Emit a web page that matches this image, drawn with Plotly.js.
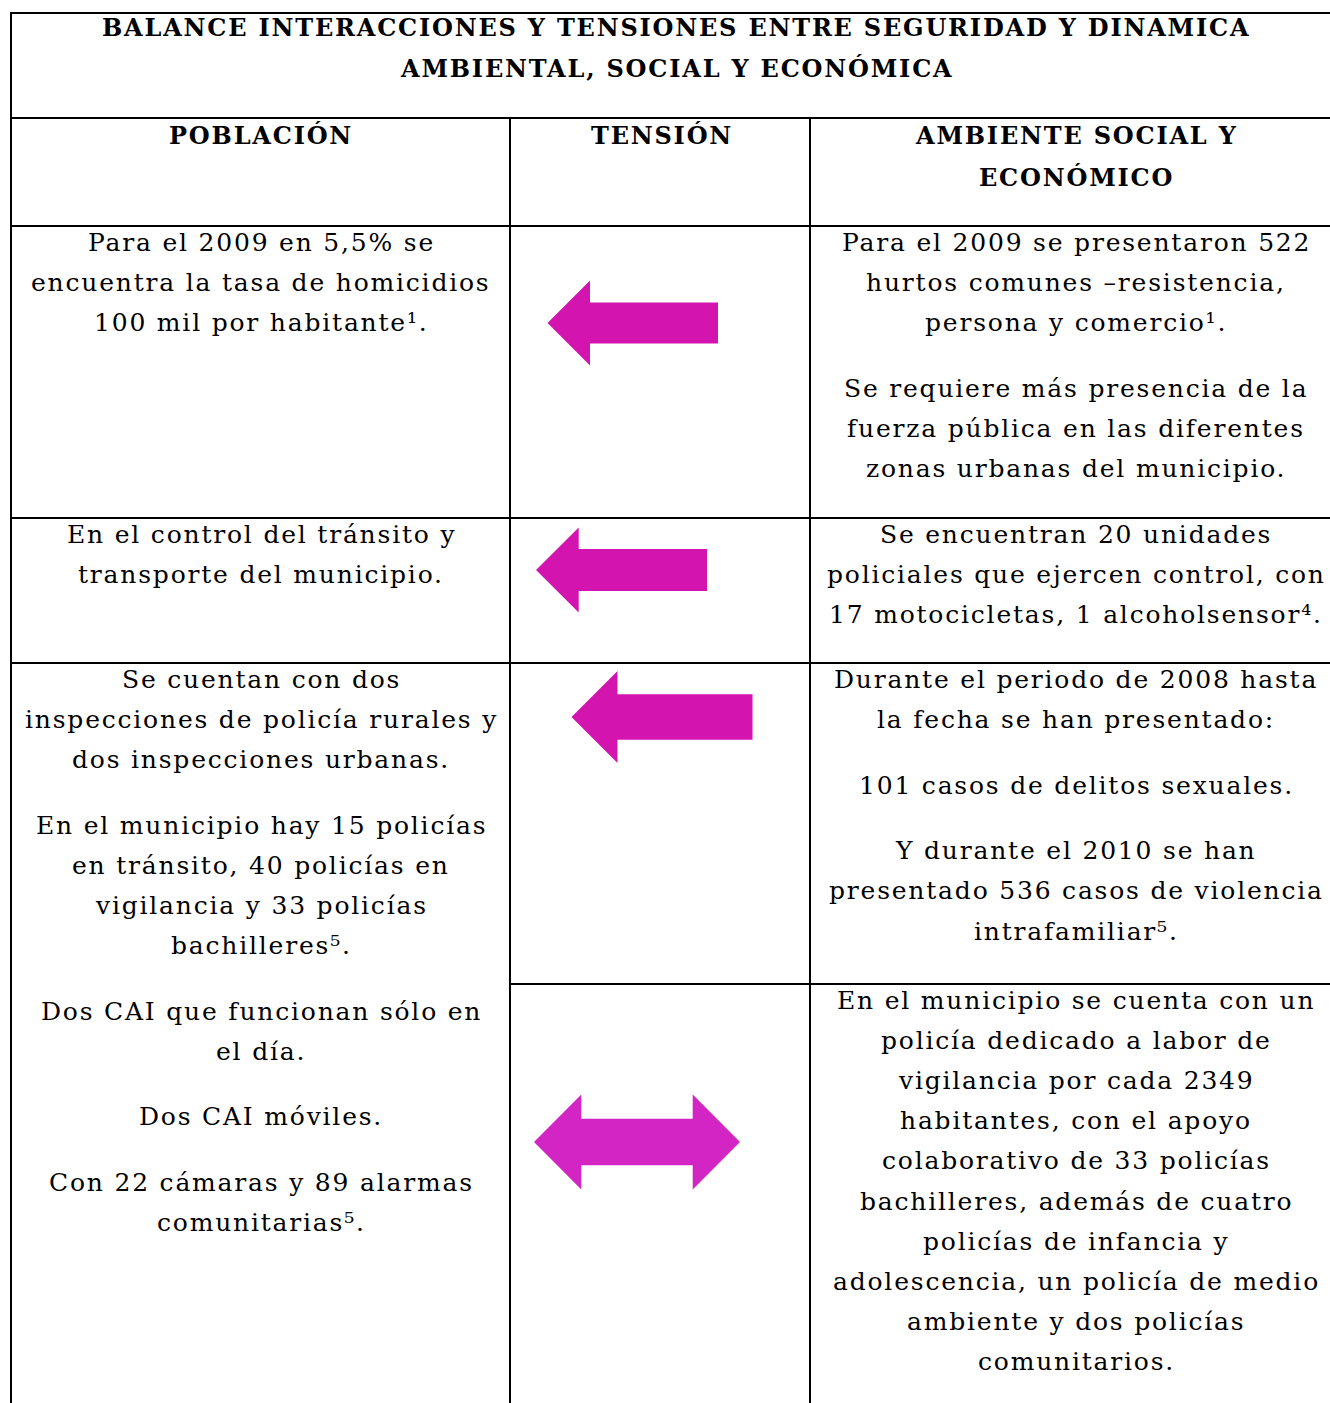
<!DOCTYPE html>
<html>
<head>
<meta charset="utf-8">
<script src="https://cdn.plot.ly/plotly-3.0.1.min.js"></script>
<style>
html,body{margin:0;padding:0;background:#fff;}
#chart{width:1330px;height:1403px;}
.annotation-text{letter-spacing:1.8px;}
</style>
</head>
<body>
<div id="chart"></div>
<script>
// ---------- DATA ----------
const titleLines = [
  "BALANCE INTERACCIONES Y TENSIONES ENTRE SEGURIDAD Y DINAMICA",
  "AMBIENTAL, SOCIAL Y ECONÓMICA"
];
const headers = [
  ["POBLACIÓN"],
  ["TENSIÓN"],
  ["AMBIENTE SOCIAL Y", "ECONÓMICO"]
];
// POBLACIÓN column: one entry per cell, each cell is a list of paragraphs (lists of lines)
const poblacion = [
  [["Para el 2009 en 5,5% se", "encuentra la tasa de homicidios", "100 mil por habitante¹."]],
  [["En el control del tránsito y", "transporte del municipio."]],
  [["Se cuentan con dos", "inspecciones de policía rurales y", "dos inspecciones urbanas."],
   ["En el municipio hay 15 policías", "en tránsito, 40 policías en", "vigilancia y 33 policías", "bachilleres⁵."],
   ["Dos CAI que funcionan sólo en", "el día."],
   ["Dos CAI móviles."],
   ["Con 22 cámaras y 89 alarmas", "comunitarias⁵."]]
];
// TENSIÓN column: arrow direction per cell
const tension = ["left", "left", "left", "both"];
// AMBIENTE SOCIAL Y ECONÓMICO column
const ambiente = [
  [["Para el 2009 se presentaron 522", "hurtos comunes –resistencia,", "persona y comercio¹."],
   ["Se requiere más presencia de la", "fuerza pública en las diferentes", "zonas urbanas del municipio."]],
  [["Se encuentran 20 unidades", "policiales que ejercen control, con", "17 motocicletas, 1 alcoholsensor⁴."]],
  [["Durante el periodo de 2008 hasta", "la fecha se han presentado:"],
   ["101 casos de delitos sexuales."],
   ["Y durante el 2010 se han", "presentado 536 casos de violencia", "intrafamiliar⁵."]],
  [["En el municipio se cuenta con un", "policía dedicado a labor de", "vigilancia por cada 2349",
    "habitantes, con el apoyo", "colaborativo de 33 policías", "bachilleres, además de cuatro",
    "policías de infancia y", "adolescencia, un policía de medio", "ambiente y dos policías", "comunitarios."]]
];

// ---------- LAYOUT GEOMETRY (pixel-like axis units) ----------
const W = 1330, H = 1403;
const tableLeft = 11, tableTop = 13, tableRight = 1345;
const colX = [tableLeft, 510, 810];
const colCenter = [261, 662, 1076];
const titleBottom = 118, headerBottom = 226;
const rowTopsMid = [226, 518, 663, 984];   // rows for TENSIÓN / AMBIENTE
const rowTopsLeft = [226, 518, 663];       // POBLACIÓN (last cell spans two rows)
const firstLineOffset = 16.5;
const lineStep = 40.1;
const paraGap = 25.5;
const bodyFont = {family: "DejaVu Serif, Liberation Serif, serif", size: 25, color: "#000"};
const boldFont = {family: "DejaVu Serif, Liberation Serif, serif", size: 24, color: "#000", weight: "bold"};
const arrowGeom = [
  {tip: 547.5, cy: 323, len: 170.5, head: 42.5, headHalf: 42.5, shaftHalf: 20.5, color: "#D314AE"},
  {tip: 536,   cy: 570, len: 171,   head: 42.7, headHalf: 42.5, shaftHalf: 21,   color: "#D314AE"},
  {tip: 571.5, cy: 717, len: 181,   head: 46,   headHalf: 46,   shaftHalf: 22.7, color: "#D314AE"},
  {tip: 534,   cy: 1142, len: 206,  head: 47.3, headHalf: 47.5, shaftHalf: 23.3, color: "#D324C4"}
];

const shapes = [];
const annotations = [];
function hline(y, x0, x1) {
  shapes.push({type: "line", xref: "x", yref: "y", x0: x0, x1: x1, y0: y, y1: y, line: {color: "#000", width: 2}});
}
function vline(x, y0, y1) {
  shapes.push({type: "line", xref: "x", yref: "y", x0: x, x1: x, y0: y0, y1: y1, line: {color: "#000", width: 2}});
}
// grid
hline(tableTop, tableLeft - 1, tableRight);
hline(titleBottom, tableLeft - 1, tableRight);
hline(headerBottom, tableLeft - 1, tableRight);
hline(rowTopsMid[1], tableLeft - 1, tableRight);
hline(rowTopsMid[2], tableLeft - 1, tableRight);
hline(rowTopsMid[3], colX[1], tableRight);
vline(colX[0], tableTop - 1, H + 5);
vline(colX[1], titleBottom, H + 5);
vline(colX[2], titleBottom, H + 5);

function addText(txt, x, y, font) {
  annotations.push({xref: "x", yref: "y", x: x, y: y, text: txt, showarrow: false,
    xanchor: "center", yanchor: "middle", font: font, align: "center"});
}
function addCell(paragraphs, x, top) {
  let y = top + firstLineOffset;
  paragraphs.forEach(function (para, pi) {
    if (pi > 0) y += paraGap;
    para.forEach(function (line) {
      addText(line, x, y, bodyFont);
      y += lineStep;
    });
  });
}

// title
titleLines.forEach(function (t, i) { addText(t, 676, 27 + i * 41, boldFont); });
// headers
headers.forEach(function (lines, c) {
  lines.forEach(function (t, i) { addText(t, colCenter[c], 135 + i * 42, boldFont); });
});
// body cells
poblacion.forEach(function (cell, r) { addCell(cell, colCenter[0], rowTopsLeft[r]); });
ambiente.forEach(function (cell, r) { addCell(cell, colCenter[2], rowTopsMid[r]); });

// arrows
function arrowPath(dir, g) {
  const x0 = g.tip, x1 = g.tip + g.len, cy = g.cy;
  const hb = x0 + g.head;
  let p;
  if (dir === "left") {
    p = "M " + x0 + "," + cy +
        " L " + hb + "," + (cy - g.headHalf) +
        " L " + hb + "," + (cy - g.shaftHalf) +
        " L " + x1 + "," + (cy - g.shaftHalf) +
        " L " + x1 + "," + (cy + g.shaftHalf) +
        " L " + hb + "," + (cy + g.shaftHalf) +
        " L " + hb + "," + (cy + g.headHalf) + " Z";
  } else {
    const hb2 = x1 - g.head;
    p = "M " + x0 + "," + cy +
        " L " + hb + "," + (cy - g.headHalf) +
        " L " + hb + "," + (cy - g.shaftHalf) +
        " L " + hb2 + "," + (cy - g.shaftHalf) +
        " L " + hb2 + "," + (cy - g.headHalf) +
        " L " + x1 + "," + cy +
        " L " + hb2 + "," + (cy + g.headHalf) +
        " L " + hb2 + "," + (cy + g.shaftHalf) +
        " L " + hb + "," + (cy + g.shaftHalf) +
        " L " + hb + "," + (cy + g.headHalf) + " Z";
  }
  return p;
}
tension.forEach(function (dir, i) {
  const g = arrowGeom[i];
  shapes.push({type: "path", xref: "x", yref: "y", path: arrowPath(dir, g),
    fillcolor: g.color, line: {width: 0}, layer: "above"});
});

const layout = {
  width: W, height: H,
  margin: {l: 0, r: 0, t: 0, b: 0, pad: 0},
  paper_bgcolor: "#fff", plot_bgcolor: "#fff",
  showlegend: false,
  xaxis: {range: [0, W], visible: false, fixedrange: true},
  yaxis: {range: [H, 0], visible: false, fixedrange: true},
  shapes: shapes,
  annotations: annotations
};
Plotly.newPlot("chart", [{x: [], y: [], type: "scatter", hoverinfo: "skip"}], layout,
  {displayModeBar: false, staticPlot: true});
</script>
</body>
</html>
